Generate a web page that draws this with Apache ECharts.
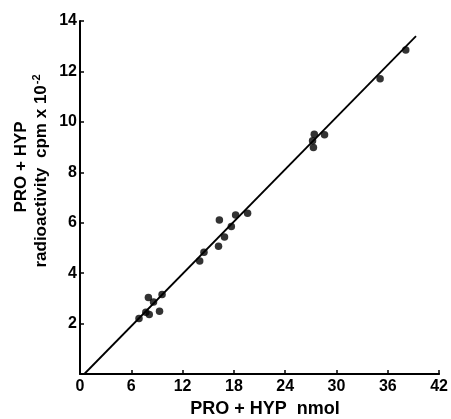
<!DOCTYPE html>
<html><head><meta charset="utf-8">
<script src="https://cdn.jsdelivr.net/npm/echarts@6/dist/echarts.min.js"></script>
<style>html,body{margin:0;padding:0;background:#fff}#c{width:451px;height:419px}</style>
</head><body><div id="c"></div>
<script>
const xTicks = [0, 6, 12, 18, 24, 30, 36, 42];
const yTicks = [2, 4, 6, 8, 10, 12, 14];
const pointsX = [6.9, 7.7, 8.0, 8.1, 8.6, 9.3, 9.6, 14.0, 14.5, 16.2, 16.3, 16.9, 17.7, 18.2, 19.6, 27.2, 27.3, 27.4, 28.6, 35.1, 38.1];
const pointsY = [2.2, 2.45, 3.03, 2.36, 2.86, 2.49, 3.15, 4.48, 4.83, 5.07, 6.11, 5.43, 5.85, 6.31, 6.38, 9.25, 8.98, 9.51, 9.49, 11.71, 12.85];
const fitX = [0.5, 39.3];
const fitY = [0, 13.4];
const xTitle = 'PRO + HYP  nmol';
const yTitle1 = 'PRO + HYP';
const yTitle2a = 'radioactivity  cpm x 10';
const yTitle2b = '-2';

const FONT = '"Liberation Sans Narrow", "Liberation Sans", Arial, sans-serif';
const chart = echarts.init(document.getElementById('c'));
chart.setOption({
  animation: false,
  backgroundColor: '#fff',
  grid: { left: 80, right: 8, top: 21, bottom: 45 },
  xAxis: {
    type: 'value', min: 0, max: 42, interval: 6,
    axisLine: { show: true, lineStyle: { color: '#000', width: 2 } },
    axisTick: { show: true, inside: true, length: 4, lineStyle: { color: '#000', width: 1.5 } },
    axisLabel: { color: '#000', fontFamily: FONT, fontWeight: 'bold', fontSize: 16, margin: 5 },
    splitLine: { show: false }
  },
  yAxis: {
    type: 'value', min: 0, max: 14, interval: 2,
    axisLine: { show: true, lineStyle: { color: '#000', width: 2 } },
    axisTick: { show: true, inside: true, length: 4, lineStyle: { color: '#000', width: 1.5 } },
    axisLabel: { color: '#000', fontFamily: FONT, fontWeight: 'bold', fontSize: 16, margin: 3, showMinLabel: false },
    splitLine: { show: false }
  },
  graphic: [
    { type: 'text', x: 265, y: 409, style: { text: xTitle, fill: '#000', font: 'bold 18px ' + FONT, align: 'center', verticalAlign: 'middle' } },
    { type: 'text', x: 21, y: 167, rotation: Math.PI / 2, style: { text: yTitle1, fill: '#000', font: 'bold 17px ' + FONT, align: 'center', verticalAlign: 'middle' } },
    { type: 'text', x: 41, y: 171, rotation: Math.PI / 2, style: {
        text: '{a|' + yTitle2a + '}{s|' + yTitle2b + '}', align: 'center', verticalAlign: 'middle',
        rich: {
          a: { fill: '#000', fontFamily: FONT, fontWeight: 'bold', fontSize: 17, lineHeight: 19 },
          s: { fill: '#000', fontFamily: FONT, fontWeight: 'bold', fontSize: 11, verticalAlign: 'top', lineHeight: 19, padding: [0, 0, 6, 1] }
        } } }
  ],
  series: [
    { type: 'line', data: fitX.map((x, i) => [x, fitY[i]]), symbol: 'none', lineStyle: { color: '#000', width: 1.8 }, z: 2 },
    { type: 'scatter', data: pointsX.map((x, i) => [x, pointsY[i]]), symbol: 'circle', symbolSize: 7.5, itemStyle: { color: '#000' }, z: 3 }
  ]
});
</script></body></html>
